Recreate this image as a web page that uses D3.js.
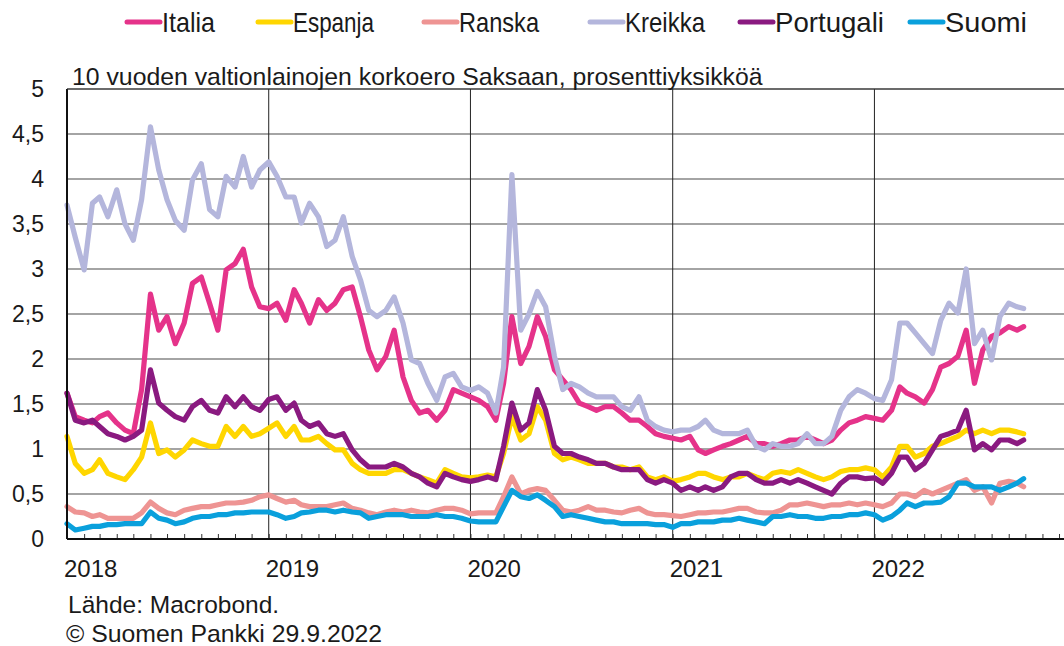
<!DOCTYPE html>
<html>
<head>
<meta charset="utf-8">
<script src="https://cdn.jsdelivr.net/npm/d3@7"></script>
<style>
  body { margin: 0; background: #fff; }
  svg { display: block; font-family: "Liberation Sans", Arial, sans-serif; }
</style>
</head>
<body>
<div id="grafico"></div>
<script>
// korkoerot Saksaan, puolen kuukauden välein (1. ja 16. päivä), viimeinen 28.9.2022
var sarjat = ['Italia', 'Espanja', 'Ranska', 'Kreikka', 'Portugali', 'Suomi'];
var varit = ['#e5338a', '#ffd600', '#ee9493', '#b4b6dc', '#8a1a80', '#0aa0dc'];
var y_ticks = [0, 0.5, 1, 1.5, 2, 2.5, 3, 3.5, 4, 4.5, 5];
var vuodet = [2018, 2019, 2020, 2021, 2022];

var italia = [1.62,1.36,1.32,1.29,1.36,1.40,1.29,1.21,1.17,1.66,2.72,2.32,2.47,2.17,2.40,2.84,2.91,2.62,2.32,2.99,3.06,3.22,2.80,2.58,2.56,
  2.62,2.43,2.77,2.62,2.40,2.66,2.54,2.62,2.77,2.80,2.47,2.10,1.88,2.03,2.32,1.80,1.54,1.40,1.43,1.32,1.43,1.66,1.62,1.58,
  1.54,1.47,1.32,1.73,2.47,1.95,2.14,2.47,2.25,1.88,1.77,1.66,1.51,1.47,1.43,1.47,1.47,1.40,1.32,1.32,1.25,1.17,1.14,1.12,
  1.10,1.14,0.99,0.95,0.99,1.03,1.06,1.10,1.14,1.06,1.06,1.03,1.06,1.10,1.10,1.14,1.10,1.06,1.10,1.21,1.29,1.32,1.36,1.34,
  1.32,1.43,1.69,1.62,1.58,1.51,1.66,1.91,1.95,2.03,2.32,1.73,2.10,2.25,2.29,2.36,2.32,2.36];
var espanja = [1.14,0.84,0.73,0.77,0.88,0.73,0.69,0.66,0.77,0.91,1.29,0.95,0.99,0.91,0.99,1.10,1.06,1.03,1.03,1.25,1.14,1.25,1.14,1.17,1.23,
  1.29,1.14,1.25,1.10,1.10,1.14,1.06,0.99,0.99,0.84,0.77,0.73,0.73,0.73,0.77,0.77,0.73,0.69,0.66,0.62,0.77,0.73,0.69,0.68,
  0.69,0.71,0.69,0.95,1.36,1.10,1.17,1.47,1.32,0.95,0.88,0.91,0.88,0.84,0.84,0.84,0.80,0.80,0.77,0.80,0.69,0.66,0.69,0.64,
  0.66,0.69,0.73,0.73,0.69,0.66,0.69,0.69,0.73,0.69,0.66,0.73,0.75,0.73,0.77,0.73,0.69,0.66,0.69,0.75,0.77,0.77,0.79,0.77,
  0.69,0.80,1.03,1.03,0.91,0.95,1.03,1.06,1.10,1.14,1.21,1.17,1.21,1.17,1.21,1.21,1.19,1.17];
var ranska = [0.36,0.30,0.29,0.25,0.27,0.23,0.23,0.23,0.23,0.29,0.41,0.34,0.29,0.27,0.32,0.34,0.36,0.36,0.38,0.40,0.40,0.41,0.43,0.47,0.49,
  0.45,0.41,0.43,0.38,0.36,0.36,0.36,0.38,0.40,0.34,0.32,0.29,0.27,0.30,0.32,0.30,0.32,0.30,0.29,0.32,0.34,0.34,0.32,0.28,
  0.29,0.29,0.29,0.47,0.69,0.50,0.54,0.56,0.54,0.43,0.32,0.30,0.32,0.36,0.32,0.32,0.30,0.29,0.32,0.34,0.29,0.27,0.27,0.26,
  0.25,0.27,0.29,0.29,0.30,0.30,0.32,0.34,0.34,0.30,0.29,0.29,0.32,0.38,0.38,0.40,0.38,0.36,0.38,0.38,0.40,0.38,0.40,0.38,
  0.36,0.40,0.50,0.50,0.47,0.54,0.50,0.54,0.58,0.62,0.66,0.54,0.58,0.40,0.62,0.64,0.62,0.58];
var kreikka = [3.71,3.35,2.99,3.73,3.80,3.58,3.88,3.50,3.32,3.77,4.58,4.10,3.77,3.54,3.43,3.99,4.17,3.66,3.58,4.03,3.91,4.25,3.91,4.10,4.19,
  4.03,3.80,3.80,3.51,3.73,3.58,3.25,3.32,3.58,3.14,2.88,2.54,2.47,2.54,2.69,2.40,1.99,1.95,1.73,1.54,1.80,1.84,1.69,1.65,
  1.69,1.62,1.40,1.91,4.05,2.32,2.50,2.75,2.58,2.03,1.66,1.73,1.69,1.62,1.58,1.58,1.58,1.47,1.43,1.58,1.32,1.25,1.21,1.19,
  1.21,1.21,1.25,1.32,1.21,1.17,1.17,1.17,1.21,1.03,0.99,1.06,1.03,1.03,1.06,1.17,1.06,1.06,1.14,1.43,1.58,1.66,1.62,1.56,
  1.54,1.77,2.40,2.40,2.29,2.17,2.06,2.43,2.62,2.51,3.00,2.17,2.32,1.99,2.47,2.62,2.58,2.56];
var portugali = [1.62,1.32,1.29,1.32,1.25,1.17,1.14,1.10,1.14,1.21,1.88,1.51,1.43,1.36,1.32,1.47,1.54,1.43,1.40,1.58,1.47,1.58,1.47,1.43,1.55,
  1.58,1.43,1.51,1.32,1.25,1.29,1.17,1.14,1.17,0.99,0.88,0.80,0.80,0.80,0.84,0.80,0.73,0.69,0.62,0.58,0.73,0.69,0.66,0.64,
  0.66,0.69,0.66,1.03,1.51,1.21,1.29,1.66,1.43,1.03,0.95,0.95,0.91,0.88,0.84,0.84,0.80,0.77,0.77,0.77,0.66,0.62,0.66,0.62,
  0.54,0.58,0.54,0.58,0.54,0.58,0.69,0.73,0.73,0.66,0.62,0.62,0.66,0.62,0.66,0.62,0.58,0.54,0.50,0.62,0.69,0.69,0.67,0.68,
  0.62,0.73,0.91,0.91,0.77,0.84,0.99,1.14,1.17,1.21,1.43,0.99,1.06,0.99,1.10,1.10,1.06,1.10];
var suomi = [0.17,0.10,0.12,0.14,0.14,0.16,0.16,0.17,0.17,0.17,0.30,0.23,0.21,0.17,0.19,0.23,0.25,0.25,0.27,0.27,0.29,0.29,0.30,0.30,0.30,
  0.27,0.23,0.25,0.29,0.30,0.32,0.32,0.30,0.32,0.30,0.29,0.23,0.25,0.27,0.27,0.27,0.25,0.25,0.25,0.27,0.25,0.25,0.23,0.20,
  0.19,0.19,0.19,0.36,0.54,0.47,0.45,0.49,0.43,0.36,0.25,0.27,0.25,0.23,0.21,0.19,0.19,0.17,0.17,0.17,0.17,0.16,0.16,0.13,
  0.17,0.17,0.19,0.19,0.19,0.21,0.21,0.23,0.21,0.19,0.17,0.25,0.25,0.27,0.25,0.25,0.23,0.23,0.25,0.25,0.27,0.27,0.29,0.27,
  0.21,0.25,0.32,0.40,0.36,0.40,0.40,0.41,0.47,0.62,0.62,0.58,0.58,0.58,0.54,0.58,0.62,0.67];

// päivämäärät: 1. ja 16. päivä tammikuusta 2018 syyskuuhun 2022 + viimeinen havainto
var paivat = [];
d3.timeMonth.range(new Date(2018, 0, 1), new Date(2022, 9, 1)).forEach(function(m) {
  paivat.push(m);
  paivat.push(new Date(m.getFullYear(), m.getMonth(), 16));
});
paivat.push(new Date(2022, 8, 28));

var arvot = [italia, espanja, ranska, kreikka, portugali, suomi];

var leveys = 1064,
    korkeus = 646,
    vasen = 67,
    yla = 89,
    ala = 539;

var svg = d3.select("#grafico").append("svg")
    .attr("width", leveys)
    .attr("height", korkeus);

var x = d3.scaleTime()
    .domain([new Date(2018, 0, 1), new Date(2022, 11, 10)])
    .range([vasen, leveys]);

var y = d3.scaleLinear()
    .domain([0, 5])
    .range([ala, yla]);

// vaakaviivat
svg.append("g")
  .selectAll("line")
  .data(y_ticks.filter(function(d) { return d > 0; }))
  .enter().append("line")
    .attr("x1", vasen).attr("x2", leveys)
    .attr("y1", function(d) { return y(d); })
    .attr("y2", function(d) { return y(d); })
    .attr("stroke", "#4a4a4a")
    .attr("stroke-width", 1.2);

// vuosiviivat
svg.append("g")
  .selectAll("line")
  .data(vuodet.slice(1))
  .enter().append("line")
    .attr("x1", function(d) { return x(new Date(d, 0, 1)); })
    .attr("x2", function(d) { return x(new Date(d, 0, 1)); })
    .attr("y1", yla).attr("y2", ala)
    .attr("stroke", "#222")
    .attr("stroke-width", 1);

// kuukausiväkäset alareunassa
var xAxis = d3.axisBottom(x)
    .ticks(d3.timeMonth.every(1))
    .tickSize(-5)
    .tickFormat("");
var ax = svg.append("g")
    .attr("transform", "translate(0," + ala + ")")
    .call(xAxis);
ax.select(".domain").remove();
ax.selectAll(".tick line").attr("stroke", "#333").attr("stroke-width", 1);

// sarjat
var viiva = d3.line()
    .x(function(d, i) { return x(paivat[i]); })
    .y(function(d) { return y(d); });

svg.append("g")
  .selectAll("path")
  .data(arvot)
  .enter().append("path")
    .attr("d", function(d) { return viiva(d); })
    .attr("fill", "none")
    .attr("stroke", function(d, i) { return varit[i]; })
    .attr("stroke-width", 5.2)
    .attr("stroke-linejoin", "round")
    .attr("stroke-linecap", "round");

// akselit
svg.append("line")
    .attr("x1", vasen).attr("x2", vasen).attr("y1", yla).attr("y2", ala)
    .attr("stroke", "#111").attr("stroke-width", 2);
svg.append("line")
    .attr("x1", vasen).attr("x2", leveys).attr("y1", ala).attr("y2", ala)
    .attr("stroke", "#111").attr("stroke-width", 2);
svg.append("line")
    .attr("x1", vasen).attr("x2", leveys).attr("y1", yla).attr("y2", yla)
    .attr("stroke", "#333").attr("stroke-width", 1.2);

// y-tekstit
svg.append("g")
  .selectAll("text")
  .data(y_ticks)
  .enter().append("text")
    .attr("x", 44)
    .attr("y", function(d) { return y(d); })
    .attr("dy", "0.36em")
    .attr("text-anchor", "end")
    .attr("font-size", "23px")
    .attr("fill", "#1a1a1a")
    .text(function(d) { return String(d).replace(".", ","); });

// vuositekstit
svg.append("g")
  .selectAll("text")
  .data(vuodet)
  .enter().append("text")
    .attr("x", function(d) { return x(new Date(d, 0, 1)) - 3; })
    .attr("y", 577)
    .attr("font-size", "24px")
    .attr("fill", "#1a1a1a")
    .text(function(d) { return d; });

// otsikko
svg.append("text")
    .attr("x", 72)
    .attr("y", 85)
    .attr("font-size", "24.8px")
    .attr("fill", "#1a1a1a")
    .text("10 vuoden valtionlainojen korkoero Saksaan, prosenttiyksikköä");

// lähde
svg.append("text")
    .attr("x", 68).attr("y", 613)
    .attr("font-size", "24.5px").attr("fill", "#1a1a1a")
    .text("Lähde: Macrobond.");
svg.append("text")
    .attr("x", 66).attr("y", 642)
    .attr("font-size", "24.8px").attr("fill", "#1a1a1a")
    .text("© Suomen Pankki 29.9.2022");

// selite
var selite_x = [127, 258, 424, 590, 740, 910],
    selite_w = [53, 81, 80, 80, 109, 82];

var selite = svg.append("g")
  .selectAll("g")
  .data(sarjat)
  .enter().append("g")
    .attr("transform", function(d, i) { return "translate(" + selite_x[i] + ",22)"; });

selite.append("line")
    .attr("x1", 0).attr("x2", 33)
    .attr("stroke", function(d, i) { return varit[i]; })
    .attr("stroke-width", 5)
    .attr("stroke-linecap", "round");

selite.append("text")
    .attr("x", 35)
    .attr("y", 10)
    .attr("font-size", "28px")
    .attr("fill", "#1a1a1a")
    .attr("textLength", function(d, i) { return selite_w[i]; })
    .attr("lengthAdjust", "spacingAndGlyphs")
    .text(function(d) { return d; });
</script>
</body>
</html>
